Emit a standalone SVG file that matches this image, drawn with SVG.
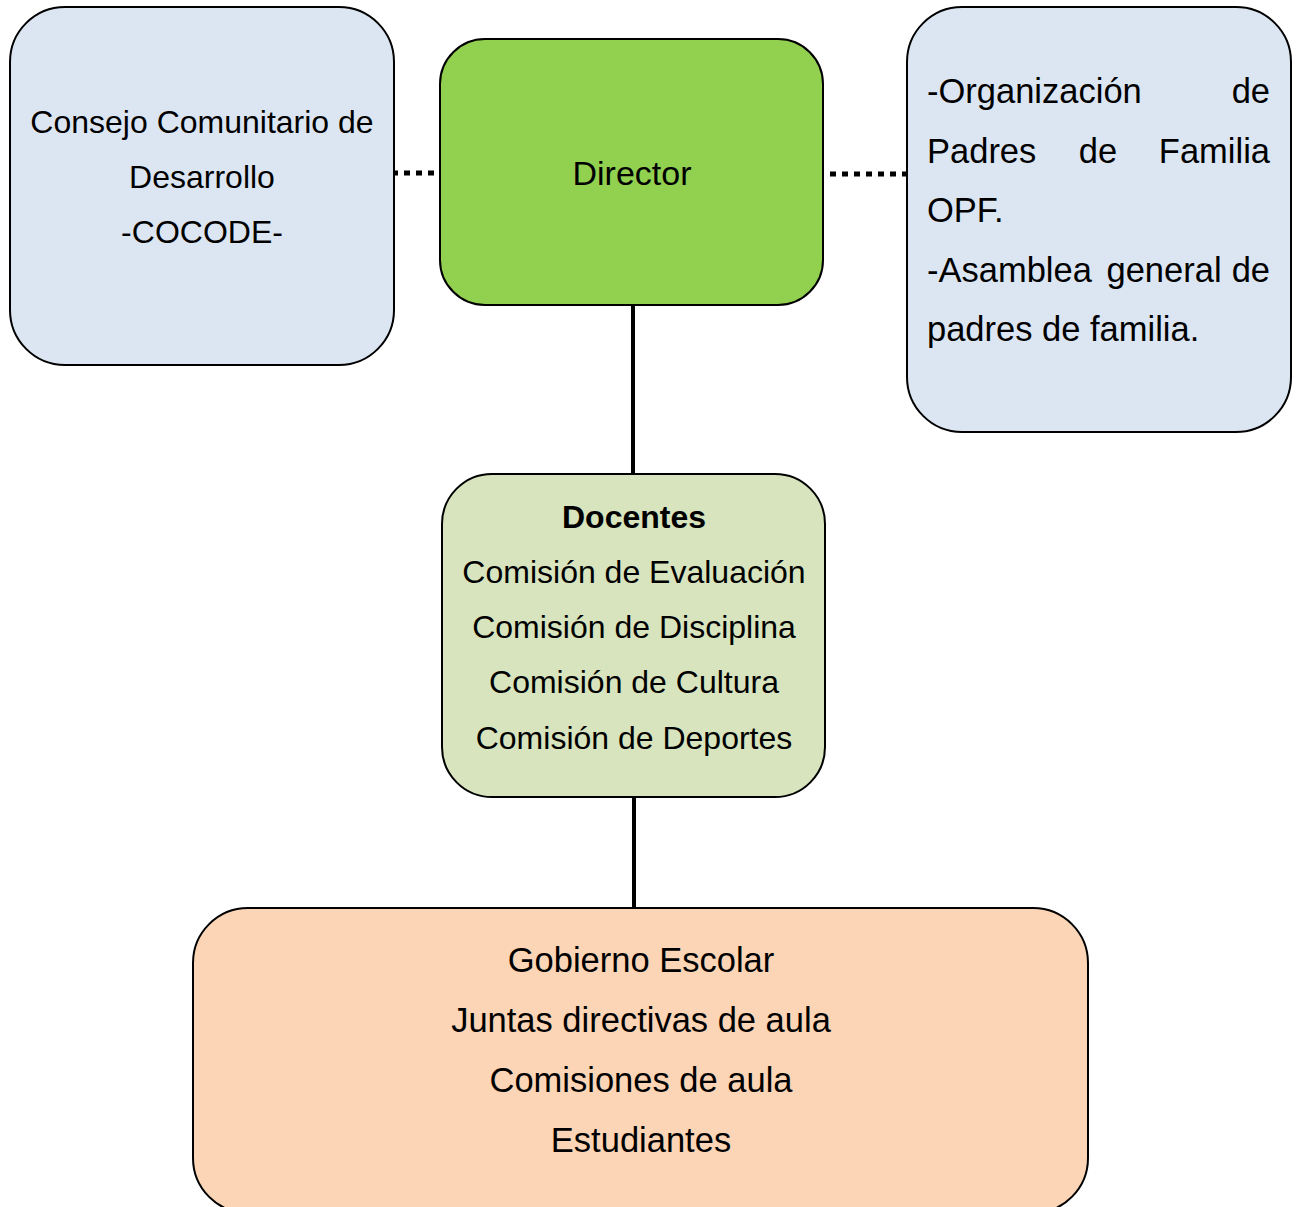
<svg xmlns="http://www.w3.org/2000/svg" width="1299" height="1207" viewBox="0 0 1299 1207">
<style>
.box{stroke:#000;stroke-width:2}
.t{font-family:"Liberation Sans",Arial,sans-serif;fill:#000}
.c{text-anchor:middle}
.solid{stroke:#000;stroke-width:4;fill:none}
.dot{stroke:#000;stroke-width:5;stroke-dasharray:6 6;fill:none}
</style>
<rect width="1299" height="1207" fill="#fff"/>
<g id="connectors">
<line class="solid" x1="633" y1="305" x2="633" y2="474"/>
<line class="solid" x1="634" y1="797" x2="634" y2="908"/>
<line class="dot" x1="392" y1="173" x2="440" y2="173"/>
<line class="dot" x1="830" y1="174" x2="907" y2="174"/>
</g>
<g id="cocode">
<rect class="box" x="10" y="7" width="384" height="358" rx="55" fill="#dce6f2"/>
<text class="t c" font-size="32" x="202" y="133">Consejo Comunitario de</text>
<text class="t c" font-size="32" x="202" y="188">Desarrollo</text>
<text class="t c" font-size="32" x="202" y="243">-COCODE-</text>
</g>
<g id="director">
<rect class="box" x="440" y="39" width="383" height="266" rx="45" fill="#92d050"/>
<text class="t c" font-size="34" x="632" y="185">Director</text>
</g>
<g id="opf">
<rect class="box" x="907" y="7" width="384" height="425" rx="55" fill="#dce6f2"/>
<g class="t" font-size="34.5">
<text x="927" y="103">-Organización</text>
<text x="1270" y="103" text-anchor="end">de</text>
<text x="927" y="163">Padres</text>
<text x="1098" y="163" text-anchor="middle">de</text>
<text x="1270" y="163" text-anchor="end">Familia</text>
<text x="927" y="222">OPF.</text>
<text x="927" y="282">-Asamblea</text>
<text x="1164" y="282" text-anchor="middle">general</text>
<text x="1270" y="282" text-anchor="end">de</text>
<text x="927" y="341">padres de familia.</text>
</g>
</g>
<g id="docentes">
<rect class="box" x="442" y="474" width="383" height="323" rx="50" fill="#d7e4bd"/>
<text class="t c" font-size="32" font-weight="bold" x="634" y="528">Docentes</text>
<text class="t c" font-size="32" x="634" y="583">Comisión de Evaluación</text>
<text class="t c" font-size="32" x="634" y="638">Comisión de Disciplina</text>
<text class="t c" font-size="32" x="634" y="693">Comisión de Cultura</text>
<text class="t c" font-size="32" x="634" y="749">Comisión de Deportes</text>
</g>
<g id="estudiantes">
<rect class="box" x="193" y="908" width="895" height="305" rx="55" fill="#fbd5b5"/>
<text class="t c" font-size="34.5" x="641" y="972">Gobierno Escolar</text>
<text class="t c" font-size="34.5" x="641" y="1032">Juntas directivas de aula</text>
<text class="t c" font-size="34.5" x="641" y="1092">Comisiones de aula</text>
<text class="t c" font-size="34.5" x="641" y="1152">Estudiantes</text>
</g>
</svg>
